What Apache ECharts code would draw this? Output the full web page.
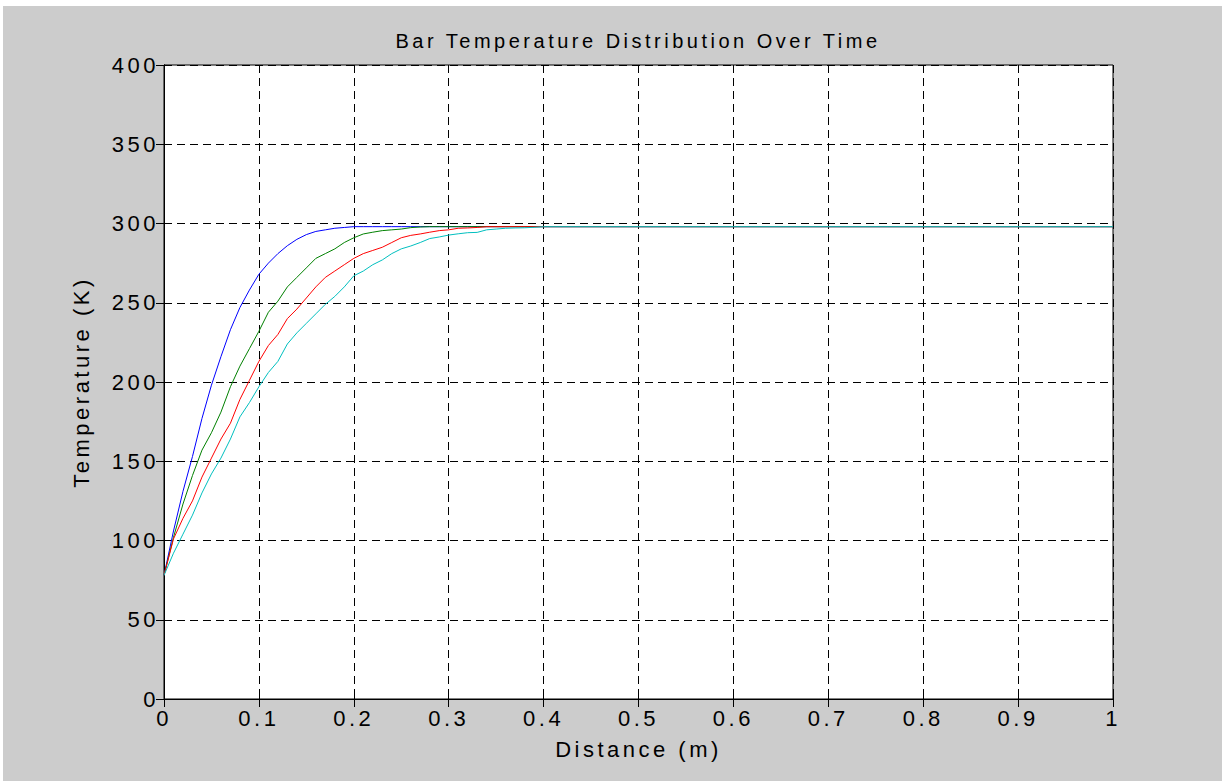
<!DOCTYPE html>
<html>
<head>
<meta charset="utf-8">
<script src="https://cdn.jsdelivr.net/npm/echarts@6/dist/echarts.min.js"></script>
<style>
  html, body { margin: 0; padding: 0; background: #fff; }
  #main { position: absolute; left: 3px; top: 6px; width: 1219px; height: 775px; background: #cccccc; }
  #main text { letter-spacing: 3.5px; }
</style>
</head>
<body>
<div id="main"></div>
<script>
// distance along the bar (m)
const distance = [
  0, 0.01, 0.02, 0.03, 0.04, 0.05, 0.06, 0.07, 0.08, 0.09,
  0.10, 0.11, 0.12, 0.13, 0.14, 0.15, 0.16, 0.17, 0.18, 0.19,
  0.20, 0.21, 0.22, 0.23, 0.24, 0.25, 0.26, 0.27, 0.28, 0.29,
  0.30, 0.31, 0.32, 0.33, 0.34, 0.35, 0.36, 0.37, 0.38, 0.39,
  0.40, 1
];

// temperature (K) at four times
const tempBlue = [
  78, 106, 131, 153, 177, 198, 216, 233, 247, 258,
  268, 275, 281, 286, 290, 293, 295, 296, 297, 297.5,
  298, 298, 298, 298, 298, 298, 298, 298, 298, 298,
  298, 298, 298, 298, 298, 298, 298, 298, 298, 298,
  298, 298
];
const tempGreen = [
  78, 102, 123, 141, 157, 168, 181, 197, 210, 221,
  232, 244, 251, 260, 266, 272, 278, 281, 284, 288,
  291, 293.4, 294.5, 295.5, 296, 296.5, 297.4, 297.8, 298, 298,
  298, 298, 298, 298, 298, 298, 298, 298, 298, 298,
  298, 298
];
const tempRed = [
  78, 101, 114, 125, 140, 152, 164, 174, 189, 201,
  213, 223, 230, 240, 246, 253, 260, 266, 270, 274,
  278, 281, 283, 285, 288, 291, 292.5, 293.4, 294.5, 295.5,
  296, 297, 297.2, 297.5, 298, 298, 298, 298, 298, 298,
  298, 298
];
const tempCyan = [
  78, 92, 104, 116, 130, 142, 152, 164, 178, 187,
  197, 206, 213, 224, 231, 237, 243, 249, 254, 260,
  267, 270, 274, 277, 281, 284, 285.8, 288, 290.5, 291.5,
  292.7, 293.5, 294.2, 294.4, 296, 296.5, 297, 297.2, 297.3, 297.6,
  298, 298
];

const font = '"Liberation Sans", Arial, sans-serif';
const pairs = (ys) => distance.map((x, i) => [x, ys[i]]);

const chart = echarts.init(document.getElementById('main'), null, { renderer: 'svg' });

const mkLine = (data, color) => ({
  type: 'line',
  data: pairs(data),
  showSymbol: false,
  lineStyle: { color: color, width: 1 },
  itemStyle: { color: color },
  animation: false
});

chart.setOption({
  animation: false,
  title: {
    text: 'Bar Temperature Distribution Over Time',
    left: 630,
    textAlign: 'center',
    top: 20,
    textStyle: { fontFamily: font, fontSize: 20, fontWeight: 'normal', color: '#000' }
  },
  grid: {
    left: 161, top: 59, right: 109, bottom: 82,
    show: true, backgroundColor: '#fff', borderColor: '#000', borderWidth: 1
  },
  xAxis: [{
    type: 'value', min: 0, max: 1, interval: 0.1,
    name: 'Distance (m)', nameLocation: 'middle', nameGap: 39,
    nameTextStyle: { fontFamily: font, fontSize: 22, color: '#000' },
    axisLine: { show: true, lineStyle: { color: '#000', width: 1 } },
    axisTick: { show: true, inside: true, length: 8, lineStyle: { color: '#000' } },
    axisLabel: { fontFamily: font, fontSize: 22, color: '#000', margin: 8 },
    splitLine: { show: true, lineStyle: { color: '#000', width: 1, type: [8, 5] } }
  }, {
    type: 'value', min: 0, max: 1, interval: 0.1, position: 'top',
    axisLine: { show: true, lineStyle: { color: '#000', width: 1 } },
    axisTick: { show: true, inside: true, length: 8, lineStyle: { color: '#000' } },
    axisLabel: { show: false },
    splitLine: { show: false }
  }],
  yAxis: [{
    type: 'value', min: 0, max: 400, interval: 50,
    name: 'Temperature (K)', nameLocation: 'middle', nameGap: 72,
    nameTextStyle: { fontFamily: font, fontSize: 22, color: '#000' },
    axisLine: { show: true, lineStyle: { color: '#000', width: 1 } },
    axisTick: { show: true, inside: true, length: 8, lineStyle: { color: '#000' } },
    axisLabel: { fontFamily: font, fontSize: 22, color: '#000', margin: 5 },
    splitLine: { show: true, lineStyle: { color: '#000', width: 1, type: [8, 5] } }
  }, {
    type: 'value', min: 0, max: 400, interval: 50, position: 'right',
    axisLine: { show: true, lineStyle: { color: '#000', width: 1 } },
    axisTick: { show: true, inside: true, length: 8, lineStyle: { color: '#000' } },
    axisLabel: { show: false },
    splitLine: { show: false }
  }],
  series: [
    mkLine(tempBlue, '#0000ff'),
    mkLine(tempGreen, '#008000'),
    mkLine(tempRed, '#ff0000'),
    mkLine(tempCyan, '#00bfbf')
  ]
});
</script>
</body>
</html>
